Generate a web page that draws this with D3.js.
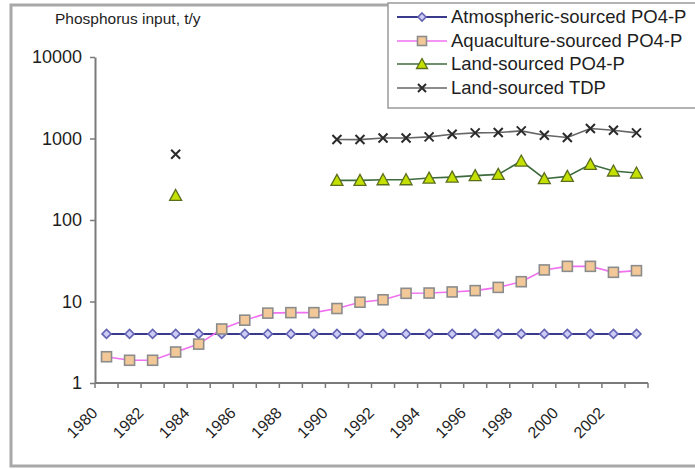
<!DOCTYPE html>
<html>
<head>
<meta charset="utf-8">
<script src="https://cdn.jsdelivr.net/npm/d3@7"></script>
<style>
  html, body { margin: 0; padding: 0; background: #fff; }
  svg { display: block; font-family: "Liberation Sans", Arial, sans-serif; }
</style>
</head>
<body>
<svg id="chart" width="695" height="469"></svg>
<script>
// Annual phosphorus inputs by source, t/y (log scale)
const years = d3.range(1980, 2004);
const atmospheric = [4,4,4,4,4,4,4,4,4,4,4,4,4,4,4,4,4,4,4,4,4,4,4,4];
const aquaculture = [2.1,1.9,1.9,2.4,3.0,4.6,5.9,7.2,7.3,7.3,8.2,9.8,10.5,12.6,12.7,13.1,13.6,14.9,17.5,24.4,27,27,22.8,23.9];
const landPO4 = [null,null,null,200,null,null,null,null,null,null,306,306,312,312,327,336,350,363,529,321,343,482,399,377];
const landTDP = [null,null,null,640,null,null,null,null,null,null,971,970,1016,1016,1048,1128,1172,1183,1239,1096,1027,1325,1260,1172];

const xTickLabels = ["1980","1982","1984","1986","1988","1990","1992","1994","1996","1998","2000","2002"];
const yTickValues = [1, 10, 100, 1000, 10000];
const yTitle = "Phosphorus input, t/y";

const seriesNames = ["Atmospheric-sourced PO4-P","Aquaculture-sourced PO4-P","Land-sourced PO4-P","Land-sourced TDP"];

const series = [
  { name: seriesNames[0], values: atmospheric, line: "#3a3a8c", lw: 2, marker: "diamond", fill: "#ccccf5", stroke: "#6464b4" },
  { name: seriesNames[1], values: aquaculture, line: "#f070f0", lw: 1.6, marker: "square", fill: "#f2c898", stroke: "#8c8c8c" },
  { name: seriesNames[2], values: landPO4, line: "#3d6b3d", lw: 1.6, marker: "triangle", fill: "#c4e000", stroke: "#5a6e1e" },
  { name: seriesNames[3], values: landTDP, line: "#666666", lw: 1.6, marker: "cross", fill: "none", stroke: "#2a2a2a" }
];

const svg = d3.select("#chart");
const textColor = "#1e1e1e";
const axisColor = "#7a7a7a";

// outer chart frame
svg.append("rect")
  .attr("x", 11).attr("y", 5).attr("width", 700).attr("height", 461)
  .attr("fill", "#fff").attr("stroke", "#a8a8a8").attr("stroke-width", 3);

const plot = { left: 95, right: 648, top: 57, bottom: 383 };

const x = d3.scaleBand().domain(years).range([plot.left, plot.right]).padding(0);
const y = d3.scaleLog().domain([1, 10000]).range([plot.bottom, plot.top]);
const cx = d => x(d) + x.bandwidth() / 2;

// y axis
const yAxis = svg.append("g").attr("transform", `translate(${plot.left},0)`)
  .call(d3.axisLeft(y).tickValues(yTickValues).tickFormat(d3.format("d")).tickSize(5).tickSizeOuter(0).tickPadding(8));
yAxis.select(".domain").attr("stroke", axisColor).attr("stroke-width", 2);
yAxis.selectAll(".tick line").attr("stroke", axisColor).attr("stroke-width", 1.5);
yAxis.selectAll(".tick text").attr("fill", textColor).style("font-size", "18px");

// x axis: ticks sit on the category boundaries
const xAxisG = svg.append("g").attr("transform", `translate(0,${plot.bottom})`);
xAxisG.append("line")
  .attr("x1", plot.left).attr("x2", plot.right)
  .attr("stroke", axisColor).attr("stroke-width", 2);
const boundaries = years.map(d => x(d)).concat([plot.right]);
xAxisG.selectAll("line.tk").data(boundaries).join("line").attr("class", "tk")
  .attr("x1", d => d).attr("x2", d => d).attr("y1", 0).attr("y2", 5)
  .attr("stroke", axisColor).attr("stroke-width", 1.5);
xAxisG.selectAll("text").data(xTickLabels).join("text")
  .attr("transform", d => `translate(${cx(+d) - 12},${27}) rotate(-45)`)
  .attr("text-anchor", "end").attr("dy", "0.35em")
  .attr("fill", textColor).style("font-size", "16px")
  .text(d => d);

// y axis title
svg.append("text").attr("x", 55).attr("y", 24)
  .attr("fill", textColor).style("font-size", "15.5px")
  .text(yTitle);

// marker shapes
function drawMarker(g, type, s, size) {
  const r = size / 2;
  if (type === "diamond") {
    g.append("path").attr("d", `M0,${-r}L${r},0L0,${r}L${-r},0Z`)
      .attr("fill", s.fill).attr("stroke", s.stroke).attr("stroke-width", 1.6);
  } else if (type === "square") {
    g.append("rect").attr("x", -r).attr("y", -r).attr("width", size).attr("height", size)
      .attr("fill", s.fill).attr("stroke", s.stroke).attr("stroke-width", 1.6);
  } else if (type === "triangle") {
    g.append("path").attr("d", `M0,${-r - 1}L${r + 1},${r}L${-r - 1},${r}Z`)
      .attr("fill", s.fill).attr("stroke", s.stroke).attr("stroke-width", 1.3);
  } else if (type === "cross") {
    g.append("path").attr("d", `M${-r},${-r}L${r},${r}M${r},${-r}L${-r},${r}`)
      .attr("stroke", s.stroke).attr("stroke-width", 2).attr("fill", "none");
  }
}
const markerSize = { diamond: 9, square: 10, triangle: 10, cross: 9 };

// series lines and markers
series.forEach(s => {
  const pts = years.map((yr, i) => ({ yr, v: s.values[i] }));
  const line = d3.line().defined(d => d.v != null).x(d => cx(d.yr)).y(d => y(d.v));
  svg.append("path").datum(pts)
    .attr("d", line).attr("fill", "none")
    .attr("stroke", s.line).attr("stroke-width", s.lw);
  const mg = svg.append("g");
  pts.filter(d => d.v != null).forEach(d => {
    const g = mg.append("g").attr("transform", `translate(${cx(d.yr)},${y(d.v)})`);
    drawMarker(g, s.marker, s, markerSize[s.marker]);
  });
});

// legend
const legend = svg.append("g");
legend.append("rect")
  .attr("x", 388).attr("y", 3).attr("width", 320).attr("height", 105)
  .attr("fill", "#fff").attr("stroke", "#9a9a9a").attr("stroke-width", 1.5);
const rowY = [17, 41, 64, 88];
series.forEach((s, i) => {
  const g = legend.append("g").attr("transform", `translate(0,${rowY[i]})`);
  g.append("line").attr("x1", 397).attr("x2", 447).attr("y1", 0).attr("y2", 0)
    .attr("stroke", s.line).attr("stroke-width", s.lw);
  const mg = g.append("g").attr("transform", "translate(422,0)");
  drawMarker(mg, s.marker, s, markerSize[s.marker] - 1);
  g.append("text").attr("x", 451).attr("y", 0).attr("dy", "0.35em")
    .attr("fill", textColor).style("font-size", "18.5px")
    .text(s.name);
});
</script>
</body>
</html>
